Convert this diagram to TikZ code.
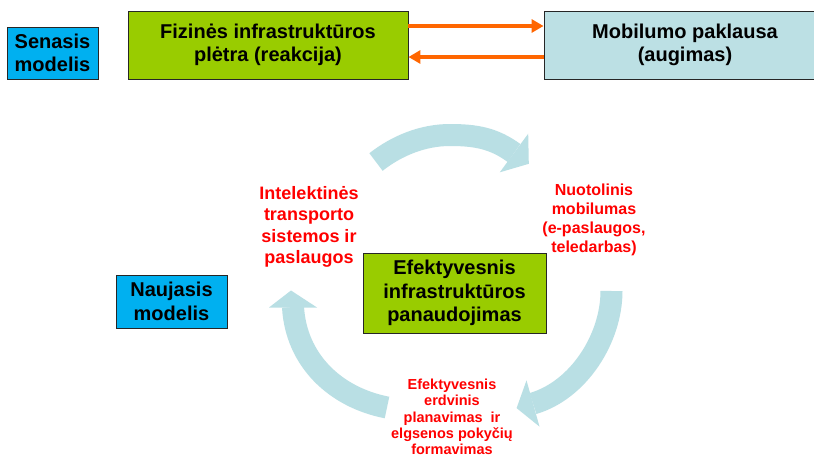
\documentclass[tikz,border=0pt]{standalone}
\usepackage{fontspec}
\setmainfont{Liberation Sans}
\usetikzlibrary{arrows.meta}
\definecolor{boxblue}{HTML}{00B0F0}
\definecolor{boxgreen}{HTML}{99CC00}
\definecolor{paleblue}{HTML}{BCE0E4}
\definecolor{arrowblue}{HTML}{B9DFE4}
\definecolor{orangeA}{HTML}{FF6600}
\definecolor{redtext}{HTML}{FF0000}
\begin{document}
\begin{tikzpicture}[x=1pt,y=-1pt,
  box/.style={draw=black!85, line width=0.9pt, align=center, inner sep=0pt,
    font=\fontsize{20}{23.5}\selectfont\bfseries},
  redlabel/.style={text=redtext, align=center, inner sep=0pt},
  orangearrow/.style={draw=orangeA, line width=4pt, -{Triangle[length=12pt,width=13pt]}},
  cycleshaft/.style={draw=arrowblue, line width=22pt},
  cyclehead/.style={fill=arrowblue, draw=none}]
\clip (0,0) rectangle (814,458);
\fill[white] (0,0) rectangle (814,458);
% top row
\node[box, fill=boxblue, minimum width=91pt, minimum height=52pt] (sen) at (52.5,53) {Senasis\\modelis};
\node[box, fill=boxgreen, minimum width=280pt, minimum height=68pt] (fiz) at (268,45) {Fizinės infrastruktūros\\plėtra (reakcija)};
\node[box, fill=paleblue, minimum width=282pt, minimum height=68pt] (mob) at (685,45) {Mobilumo paklausa\\(augimas)};
\coordinate (ytop) at (0,26);
\coordinate (ybot) at (0,57);
\draw[orangearrow] (fiz.east |- ytop) -- (mob.west |- ytop);
\draw[orangearrow] (mob.west |- ybot) -- (fiz.east |- ybot);
% new model
\node[box, fill=boxblue, minimum width=111pt, minimum height=53pt] (nau) at (171.5,301.5) {Naujasis\\modelis};
% cycle arrows
\draw[cycleshaft] (376,162) .. controls (397,145.5) and (423,135) .. (450,135)
   .. controls (475,135) and (493.6,138) .. (514,153);
\fill[cyclehead] (499.8,172.3) -- (528.2,133.7) -- (528.8,163.8) -- cycle;
\draw[cycleshaft] (611.5,291) .. controls (611.5,338) and (579,390) .. (533,403.5);
\fill[cyclehead] (539.5,426.6) -- (526.5,380.4) -- (516.6,408.1) -- cycle;
\draw[cycleshaft] (387,407.5) .. controls (335,397.4) and (296,360) .. (293,307);
\fill[cyclehead] (269,307.5) -- (317,307.5) -- (291,290.5) -- cycle;
% centre box
\node[box, fill=boxgreen, minimum width=183pt, minimum height=80pt] (efk) at (454.5,293) {Efektyvesnis\\infrastruktūros\\panaudojimas};
% red labels
\node[redlabel, font=\fontsize{18}{21.5}\selectfont\bfseries] (its) at (309,227) {Intelektinės\\transporto\\sistemos ir\\paslaugos};
\node[redlabel, font=\fontsize{16}{19}\selectfont\bfseries] (nuo) at (594,220) {Nuotolinis\\mobilumas\\(e-paslaugos,\\teledarbas)};
\node[redlabel, font=\fontsize{14.5}{16.3}\selectfont\bfseries] (erd) at (452,417) {Efektyvesnis\\erdvinis\\planavimas\ \ ir\\elgsenos pokyčių\\formavimas};
\end{tikzpicture}
\end{document}
